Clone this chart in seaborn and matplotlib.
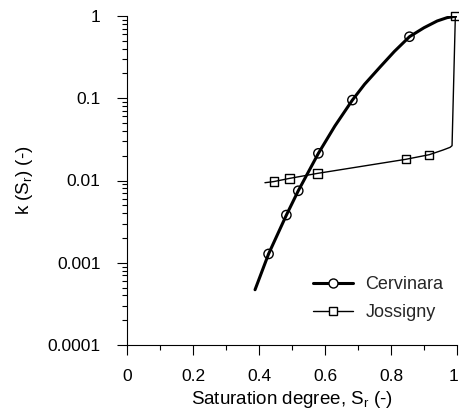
import matplotlib
matplotlib.use("Agg")
import matplotlib.pyplot as plt
from matplotlib.lines import Line2D
from matplotlib.ticker import FixedLocator, LogLocator, NullFormatter, FixedFormatter
from matplotlib.transforms import ScaledTranslation
import seaborn as sns
import numpy as np

# Cervinara: curve and measured points
cerv_line_x = [0.388, 0.429, 0.483, 0.519, 0.580, 0.630, 0.683, 0.720, 0.767, 0.810, 0.856, 0.900, 0.940, 0.970, 1.0]
cerv_line_y = [0.00047, 0.00128, 0.0038, 0.0075, 0.0214, 0.046, 0.095, 0.148, 0.24, 0.37, 0.56, 0.72, 0.87, 0.955, 1.0]
cerv_pts_x = [0.429, 0.483, 0.519, 0.580, 0.683, 0.856]
cerv_pts_y = [0.00128, 0.0038, 0.0075, 0.0214, 0.095, 0.56]

# Jossigny: curve and measured points
joss_line_x = [0.418, 0.445, 0.492, 0.577, 0.845, 0.916, 0.958, 0.979, 0.985, 0.995]
joss_line_y = [0.0094, 0.0097, 0.0106, 0.0122, 0.0181, 0.0206, 0.0235, 0.0253, 0.0265, 1.0]
joss_pts_x = [0.445, 0.492, 0.577, 0.845, 0.916, 0.995]
joss_pts_y = [0.0097, 0.0106, 0.0122, 0.0181, 0.0206, 1.0]

x_ticks = [0, 0.2, 0.4, 0.6, 0.8, 1]
x_tick_labels = ["0", "0.2", "0.4", "0.6", "0.8", "1"]
y_ticks = [0.0001, 0.001, 0.01, 0.1, 1]
y_tick_labels = ["0.0001", "0.001", "0.01", "0.1", "1"]

sns.set_theme(style="white")
plt.rcParams["font.family"] = ["Liberation Sans", "DejaVu Sans"]
plt.rcParams["mathtext.default"] = "regular"

fig = plt.figure(figsize=(4.59, 4.17), dpi=100)
ax = fig.add_axes([127/459, 1-345/417, 330/459, (345-16)/417])

sns.lineplot(x=cerv_line_x, y=cerv_line_y, sort=False, estimator=None, color="black", lw=2.2, ax=ax)
sns.lineplot(x=joss_line_x, y=joss_line_y, sort=False, estimator=None, color="black", lw=1.0, ax=ax)
sns.scatterplot(x=cerv_pts_x, y=cerv_pts_y, marker="o", s=45, facecolors="none", edgecolor="black",
                linewidth=1.0, ax=ax, zorder=5, clip_on=False)
sns.scatterplot(x=joss_pts_x, y=joss_pts_y, marker="s", s=36, facecolors="none", edgecolor="black",
                linewidth=1.0, ax=ax, zorder=5, clip_on=False)

ax.set_yscale("log")
ax.set_xlim(0, 1)
ax.set_ylim(0.0001, 1)
ax.xaxis.set_major_locator(FixedLocator(x_ticks))
ax.xaxis.set_major_formatter(FixedFormatter(x_tick_labels))
ax.xaxis.set_minor_locator(FixedLocator([0.1, 0.3, 0.5, 0.7, 0.9]))
ax.yaxis.set_major_locator(FixedLocator(y_ticks))
ax.yaxis.set_major_formatter(FixedFormatter(y_tick_labels))
ax.yaxis.set_minor_locator(LogLocator(base=10, subs=np.arange(2, 10)))
ax.yaxis.set_minor_formatter(NullFormatter())

for s in ["top", "right"]:
    ax.spines[s].set_visible(False)
for s in ["left", "bottom"]:
    ax.spines[s].set_color("black")
    ax.spines[s].set_linewidth(0.8)

ax.tick_params(axis="both", which="major", direction="out", length=7, width=0.8, color="black",
               labelsize=12.5, labelcolor="black")
ax.tick_params(axis="both", which="minor", direction="out", length=3.5, width=0.8, color="black")
ax.tick_params(axis="x", which="major", pad=10, bottom=True)
ax.tick_params(axis="x", which="minor", bottom=True)
ax.tick_params(axis="y", which="major", pad=12, left=True)
ax.tick_params(axis="y", which="minor", left=True)

fig.canvas.draw()
last = ax.get_xticklabels()[-1]
last.set_transform(last.get_transform() + ScaledTranslation(-3/100, 0, fig.dpi_scale_trans))

ax.set_xlabel("Saturation degree, S$_r$ (-)", fontsize=13.5, color="black", labelpad=4)
ax.set_ylabel("k (S$_r$) (-)", fontsize=13.5, color="black", labelpad=9)

handles = [
    Line2D([], [], color="black", lw=2.2, marker="o", markersize=6.5, markerfacecolor="white",
           markeredgecolor="black", markeredgewidth=1.0),
    Line2D([], [], color="black", lw=1.0, marker="s", markersize=6, markerfacecolor="white",
           markeredgecolor="black", markeredgewidth=1.0),
]
ax.legend(handles, ["Cervinara", "Jossigny"], loc="upper left",
          bbox_to_anchor=(313/459, 1-276/417), bbox_transform=fig.transFigure,
          borderpad=0, borderaxespad=0,
          frameon=False, fontsize=13, handlelength=2.2, handletextpad=0.7, labelspacing=0.62)

fig.savefig("out.png", dpi=100)
